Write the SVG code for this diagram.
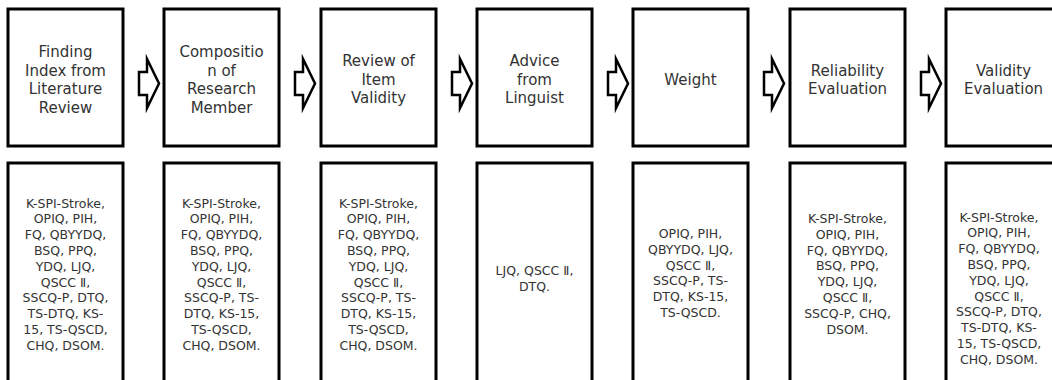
<svg xmlns="http://www.w3.org/2000/svg" xmlns:xlink="http://www.w3.org/1999/xlink" width="1052" height="380" viewBox="0 0 1052 380">
<style>
.box{fill:#fff;stroke:#000;stroke-width:3}
.arr{fill:#fff;stroke:#000;stroke-width:2.5;stroke-linejoin:miter;stroke-miterlimit:10}
.t{font-family:"DejaVu Sans","Noto Sans CJK KR",sans-serif;font-size:15px;fill:#333;text-anchor:middle}
.s{font-family:"DejaVu Sans","Noto Sans CJK KR",sans-serif;font-size:12.5px;fill:#333;text-anchor:middle}
</style>
<defs>
<path id="ar" class="arr" d="M0,72 H8 V59 L20,83.5 L8,108 V95 H0 Z"/>
</defs>
<rect width="1052" height="380" fill="#fff"/>
<g id="connectors">
<use xlink:href="#ar" href="#ar" x="139"/>
<use xlink:href="#ar" href="#ar" x="295"/>
<use xlink:href="#ar" href="#ar" x="452"/>
<use xlink:href="#ar" href="#ar" x="608"/>
<use xlink:href="#ar" href="#ar" x="764"/>
<use xlink:href="#ar" href="#ar" x="921"/>
</g>
<g id="step1">
<rect class="box" x="8" y="9" width="115" height="137"/>
<text class="t"><tspan x="65.5" y="57">Finding</tspan><tspan x="65.5" y="75.5">Index from</tspan><tspan x="65.5" y="94">Literature</tspan><tspan x="65.5" y="112.5">Review</tspan></text>
</g>
<g id="step2">
<rect class="box" x="164" y="9" width="115" height="137"/>
<text class="t"><tspan x="221.5" y="57">Compositio</tspan><tspan x="221.5" y="75.5">n of</tspan><tspan x="221.5" y="94">Research</tspan><tspan x="221.5" y="112.5">Member</tspan></text>
</g>
<g id="step3">
<rect class="box" x="321" y="9" width="115" height="137"/>
<text class="t"><tspan x="378.5" y="66">Review of</tspan><tspan x="378.5" y="84.5">Item</tspan><tspan x="378.5" y="103">Validity</tspan></text>
</g>
<g id="step4">
<rect class="box" x="477" y="9" width="115" height="137"/>
<text class="t"><tspan x="534.5" y="66">Advice</tspan><tspan x="534.5" y="84.5">from</tspan><tspan x="534.5" y="103">Linguist</tspan></text>
</g>
<g id="step5">
<rect class="box" x="633" y="9" width="115" height="137"/>
<text class="t"><tspan x="690.5" y="84.5">Weight</tspan></text>
</g>
<g id="step6">
<rect class="box" x="790" y="9" width="115" height="137"/>
<text class="t"><tspan x="847.5" y="75.5">Reliability</tspan><tspan x="847.5" y="94">Evaluation</tspan></text>
</g>
<g id="step7">
<rect class="box" x="946" y="9" width="115" height="137"/>
<text class="t"><tspan x="1003.5" y="75.5">Validity</tspan><tspan x="1003.5" y="94">Evaluation</tspan></text>
</g>
<g id="list1">
<rect class="box" x="8" y="163" width="115" height="240"/>
<text class="s"><tspan x="65.5" y="207.5">K-SPI-Stroke,</tspan><tspan x="65.5" dy="15.8">OPIQ, PIH,</tspan><tspan x="65.5" dy="15.8">FQ, QBYYDQ,</tspan><tspan x="65.5" dy="15.8">BSQ, PPQ,</tspan><tspan x="65.5" dy="15.8">YDQ, LJQ,</tspan><tspan x="65.5" dy="15.8">QSCC Ⅱ,</tspan><tspan x="65.5" dy="15.8">SSCQ-P, DTQ,</tspan><tspan x="65.5" dy="15.8">TS-DTQ, KS-</tspan><tspan x="65.5" dy="15.8">15, TS-QSCD,</tspan><tspan x="65.5" dy="15.8">CHQ, DSOM.</tspan></text>
</g>
<g id="list2">
<rect class="box" x="164" y="163" width="115" height="240"/>
<text class="s"><tspan x="221.5" y="207.5">K-SPI-Stroke,</tspan><tspan x="221.5" dy="15.8">OPIQ, PIH,</tspan><tspan x="221.5" dy="15.8">FQ, QBYYDQ,</tspan><tspan x="221.5" dy="15.8">BSQ, PPQ,</tspan><tspan x="221.5" dy="15.8">YDQ, LJQ,</tspan><tspan x="221.5" dy="15.8">QSCC Ⅱ,</tspan><tspan x="221.5" dy="15.8">SSCQ-P, TS-</tspan><tspan x="221.5" dy="15.8">DTQ, KS-15,</tspan><tspan x="221.5" dy="15.8">TS-QSCD,</tspan><tspan x="221.5" dy="15.8">CHQ, DSOM.</tspan></text>
</g>
<g id="list3">
<rect class="box" x="321" y="163" width="115" height="240"/>
<text class="s"><tspan x="378.5" y="207.5">K-SPI-Stroke,</tspan><tspan x="378.5" dy="15.8">OPIQ, PIH,</tspan><tspan x="378.5" dy="15.8">FQ, QBYYDQ,</tspan><tspan x="378.5" dy="15.8">BSQ, PPQ,</tspan><tspan x="378.5" dy="15.8">YDQ, LJQ,</tspan><tspan x="378.5" dy="15.8">QSCC Ⅱ,</tspan><tspan x="378.5" dy="15.8">SSCQ-P, TS-</tspan><tspan x="378.5" dy="15.8">DTQ, KS-15,</tspan><tspan x="378.5" dy="15.8">TS-QSCD,</tspan><tspan x="378.5" dy="15.8">CHQ, DSOM.</tspan></text>
</g>
<g id="list4">
<rect class="box" x="477" y="163" width="115" height="240"/>
<text class="s"><tspan x="534.5" y="275">LJQ, QSCC Ⅱ,</tspan><tspan x="534.5" dy="15.8">DTQ.</tspan></text>
</g>
<g id="list5">
<rect class="box" x="633" y="163" width="115" height="240"/>
<text class="s"><tspan x="690.5" y="238">OPIQ, PIH,</tspan><tspan x="690.5" dy="15.8">QBYYDQ, LJQ,</tspan><tspan x="690.5" dy="15.8">QSCC Ⅱ,</tspan><tspan x="690.5" dy="15.8">SSCQ-P, TS-</tspan><tspan x="690.5" dy="15.8">DTQ, KS-15,</tspan><tspan x="690.5" dy="15.8">TS-QSCD.</tspan></text>
</g>
<g id="list6">
<rect class="box" x="790" y="163" width="115" height="240"/>
<text class="s"><tspan x="847.5" y="223">K-SPI-Stroke,</tspan><tspan x="847.5" dy="15.8">OPIQ, PIH,</tspan><tspan x="847.5" dy="15.8">FQ, QBYYDQ,</tspan><tspan x="847.5" dy="15.8">BSQ, PPQ,</tspan><tspan x="847.5" dy="15.8">YDQ, LJQ,</tspan><tspan x="847.5" dy="15.8">QSCC Ⅱ,</tspan><tspan x="847.5" dy="15.8">SSCQ-P, CHQ,</tspan><tspan x="847.5" dy="15.8">DSOM.</tspan></text>
</g>
<g id="list7">
<rect class="box" x="946" y="163" width="115" height="240"/>
<text class="s"><tspan x="999" y="221.5">K-SPI-Stroke,</tspan><tspan x="999" dy="15.8">OPIQ, PIH,</tspan><tspan x="999" dy="15.8">FQ, QBYYDQ,</tspan><tspan x="999" dy="15.8">BSQ, PPQ,</tspan><tspan x="999" dy="15.8">YDQ, LJQ,</tspan><tspan x="999" dy="15.8">QSCC Ⅱ,</tspan><tspan x="999" dy="15.8">SSCQ-P, DTQ,</tspan><tspan x="999" dy="15.8">TS-DTQ, KS-</tspan><tspan x="999" dy="15.8">15, TS-QSCD,</tspan><tspan x="999" dy="15.8">CHQ, DSOM.</tspan></text>
</g>
</svg>
